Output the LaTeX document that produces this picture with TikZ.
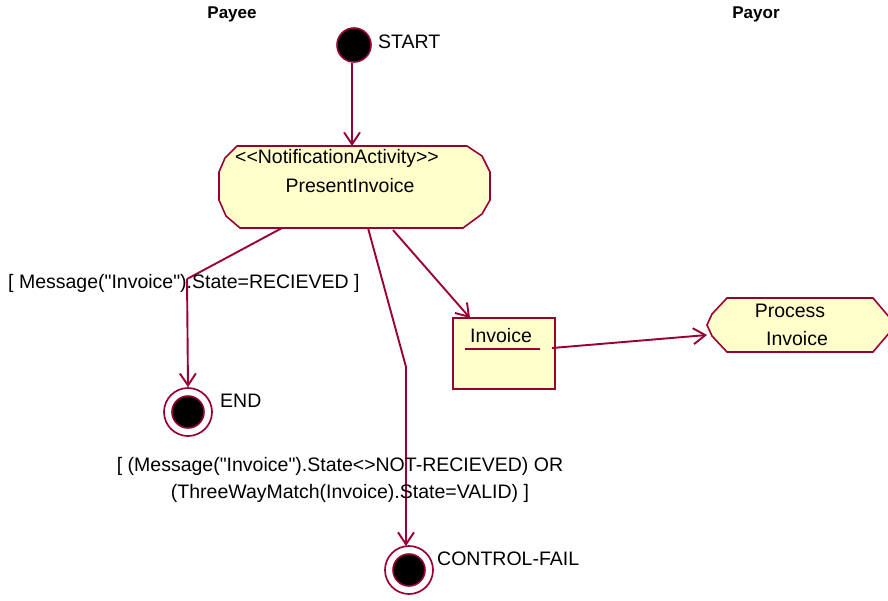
\documentclass[tikz,border=0pt]{standalone}
\usepackage{fontspec}
\setmainfont[Ligatures=TeXOff]{Liberation Sans}
\usetikzlibrary{arrows.meta}
\definecolor{rose}{HTML}{990033}
\definecolor{paper}{HTML}{FFFFCC}
\begin{document}
\begin{tikzpicture}[x=1pt,y=-1pt,
  lbl/.style={inner sep=0pt,font=\fontsize{19.5}{22}\selectfont},
  lane/.style={inner sep=0pt,font=\fontsize{17}{20}\selectfont\bfseries},
  tr/.style={draw=rose,line width=1.9pt,-{Straight Barb[length=12pt,width=16pt,line width=1.9pt]}},
  ln/.style={draw=rose,line width=1.9pt}]
\useasboundingbox (0,0) rectangle (888,600);
% lanes
\node[lane] (payee) at (232,14) {Payee};
\node[lane] (payor) at (756,14) {Payor};
% start
\node[circle,fill=black,draw=rose,line width=1.6pt,minimum size=34pt,inner sep=0pt] (start) at (354,45) {};
\node[lbl,anchor=west] (startl) at (378,42) {START};
% present invoice
\draw[ln,fill=paper,line width=1.6pt] (237,146) -- (467,146) -- (482,156) -- (490,172) -- (490,200) -- (482,214) -- (463,228) -- (240,228) -- (226,216) -- (219,200) -- (219,172) -- (225,158) -- cycle;
\coordinate (piTop) at (352,146);
\node[lbl] (stereo) at (337,158) {<<NotificationActivity>>};
\node[lbl] (pi) at (350,186) {PresentInvoice};
\coordinate (piA) at (282,228);
\coordinate (piB) at (368,228);
\coordinate (piC) at (393,230);
\draw[tr] (start.south) ++(-2,0) -- (piTop);
% end
\node[circle,draw=rose,fill=white,line width=1.7pt,minimum size=48pt,inner sep=0pt] (endo) at (188,412) {};
\node[circle,draw=rose,fill=black,line width=1.6pt,minimum size=32pt,inner sep=0pt] (endi) at (188,412) {};
\node[lbl,anchor=west] (endl) at (220,401) {END};
\coordinate (b1) at (187,279);
\draw[ln] (piA) -- (b1);
\draw[tr] (b1) -- (endo.north);
\node[lbl,anchor=west] (g1) at (8,283) {[ Message("Invoice").State=RECIEVED ]};
% control fail
\node[circle,draw=rose,fill=white,line width=1.7pt,minimum size=48pt,inner sep=0pt] (cfo) at (409,570) {};
\node[circle,draw=rose,fill=black,line width=1.6pt,minimum size=32pt,inner sep=0pt] (cfi) at (409,570) {};
\node[lbl,anchor=west] (cfl) at (437,559) {CONTROL-FAIL};
\coordinate (b2) at (406,367);
\draw[ln] (piB) -- (b2);
\draw[tr] (b2) -- (406,546);
\node[lbl] (g2a) at (340,466) {[ (Message("Invoice").State<>NOT-RECIEVED) OR};
\node[lbl] (g2b) at (350,493) {(ThreeWayMatch(Invoice).State=VALID) ]};
% invoice object
\node[draw=rose,fill=paper,line width=1.6pt,minimum width=102pt,minimum height=71pt,inner sep=0pt] (inv) at (504,353.5) {};
\node[lbl] (invl) at (501,336) {Invoice};
\draw[draw=rose,line width=1.6pt] (465,349) -- (540,349);
\draw[tr] (piC) -- (470,318);
% process invoice
\draw[ln,fill=paper,line width=1.6pt] (727,298) -- (873,298) -- (890,318) -- (890,332) -- (873,352) -- (727,352) -- (712,336) -- (707,325) -- (712,314) -- cycle;
\node[lbl] (pr1) at (790,311) {Process};
\node[lbl] (pr2) at (797,339) {Invoice};
\coordinate (prL) at (707,335);
\draw[tr] (552,348) -- (prL);
\end{tikzpicture}
\end{document}
